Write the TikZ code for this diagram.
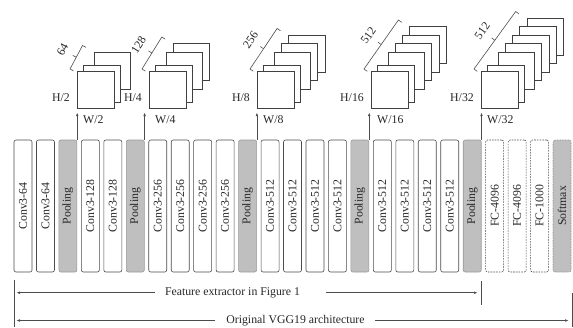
\documentclass[tikz,border=0pt]{standalone}
\usepackage{fontspec}
\setmainfont{Liberation Serif}
\usetikzlibrary{calc,arrows.meta}
\begin{document}
\begin{tikzpicture}[x=1pt,y=-1pt,
  font=\fontsize{11.8}{14}\selectfont, text=black!85,
  layer/.style={draw=black!70, rounded corners=2pt, minimum width=18pt,
    minimum height=132pt, inner sep=0pt, line width=0.6pt},
  conv/.style={layer, fill=white},
  pool/.style={layer, fill=black!25, draw=black!40},
  fc/.style={layer, fill=white, dash pattern=on 1.6pt off 1.1pt},
  soft/.style={layer, fill=black!25, draw=black!45, dash pattern=on 0.8pt off 0.8pt},
  fmap/.style={draw=black!75, fill=white, line width=0.6pt, minimum width=36.5pt,
    minimum height=37pt, inner sep=0pt, anchor=north west},
  arr/.style={draw=black!70, line width=0.5pt, -{Latex[length=3.5pt,width=2.6pt]}},
  brace/.style={draw=black!70, line width=0.6pt},
  rule/.style={draw=black!70, line width=0.6pt},
  dimlbl/.style={inner sep=1pt}
]
\useasboundingbox (0,0) rectangle (573,327);

% ---- layer boxes ----
\foreach \t/\s [count=\i from 0] in {
  Conv3-64/conv, Conv3-64/conv, Pooling/pool,
  Conv3-128/conv, Conv3-128/conv, Pooling/pool,
  Conv3-256/conv, Conv3-256/conv, Conv3-256/conv, Conv3-256/conv, Pooling/pool,
  Conv3-512/conv, Conv3-512/conv, Conv3-512/conv, Conv3-512/conv, Pooling/pool,
  Conv3-512/conv, Conv3-512/conv, Conv3-512/conv, Conv3-512/conv, Pooling/pool,
  FC-4096/fc, FC-4096/fc, FC-1000/fc, Softmax/soft}
  \node[\s] (b\i) at ({23+22.46*\i},206) {\rotatebox{90}{\t}};

% ---- feature map stacks ----
\newcommand\fmstack[5]{% #1 name, #2 front x, #3 n-1, #4 channels, #5 size label
  \foreach \j in {#3,...,0}{
    \pgfmathsetmacro\dx{\j==0 ? 0 : (\j==1 ? 6 : 16.5+7.3*(\j-2))}
    \pgfmathsetmacro\dy{\j==0 ? 0 : (\j==1 ? -6.5 : -19.5-8.5*(\j-2))}
    \node[fmap] (#1-\j) at (#2+\dx,71+\dy) {};
  }
  \coordinate (#1-A) at ($(#1-0.north west)+(-7,-2)$);
  \coordinate (#1-B) at ($(#1-#3.north west)+(-11,-6)$);
  \coordinate (#1-M) at ($(#1-A)!0.5!(#1-B)$);
  \draw[brace] ($(#1-A)!4pt!-90:(#1-B)$) -- (#1-A) -- (#1-B) -- ($(#1-B)!4pt!90:(#1-A)$);
  \draw[brace] (#1-M) -- ($(#1-M)!4pt!90:(#1-B)$);
  \path (#1-A) -- (#1-B) node[midway, sloped, above=11pt, inner sep=0.5pt] {#4};
  \node[dimlbl, anchor=east] (#1-h) at (#2-6,98) {H/#5};
  \node[dimlbl, anchor=west] (#1-w) at (#2+5,120) {W/#5};
}
\fmstack{s1}{77}{2}{64}{2}
\fmstack{s2}{149}{3}{128}{4}
\fmstack{s3}{257}{4}{256}{8}
\fmstack{s4}{371}{5}{512}{16}
\fmstack{s5}{481}{6}{512}{32}

% ---- arrows from pooling layers to feature maps ----
\foreach \b/\s in {2/s1, 5/s2, 10/s3, 15/s4, 20/s5}{
  \coordinate (\s-t) at ($(b\b.north east)+(0,-27)$);
  \draw[arr] (b\b.north east) -- (\s-t);
}

% ---- bottom dimension lines ----
\coordinate (v0a) at (14,280);
\coordinate (v0b) at (14,327);
\coordinate (v1a) at (481,281);
\coordinate (v1b) at (481,305);
\coordinate (v2a) at (572,293);
\coordinate (v2b) at (572,327);
\draw[rule] (v0a) -- (v0b);
\draw[rule] (v1a) -- (v1b);
\draw[rule] (v2a) -- (v2b);

\node[inner sep=0pt] (fe) at (232.5,292.7) {Feature extractor in Figure 1};
\node[inner sep=0pt] (ov) at (295.5,320.5) {Original VGG19 architecture};
\coordinate (feL) at (16.5,292.7);
\coordinate (feR) at (477.5,292.7);
\coordinate (ovL) at (16.5,320.5);
\coordinate (ovR) at (568.5,320.5);
\draw[arr] ([xshift=-10pt]fe.west) -- (feL);
\draw[arr] ([xshift=26pt]fe.east) -- (feR);
\draw[arr] ([xshift=-11pt]ov.west) -- (ovL);
\draw[arr] ([xshift=10pt]ov.east) -- (ovR);
\end{tikzpicture}
\end{document}
